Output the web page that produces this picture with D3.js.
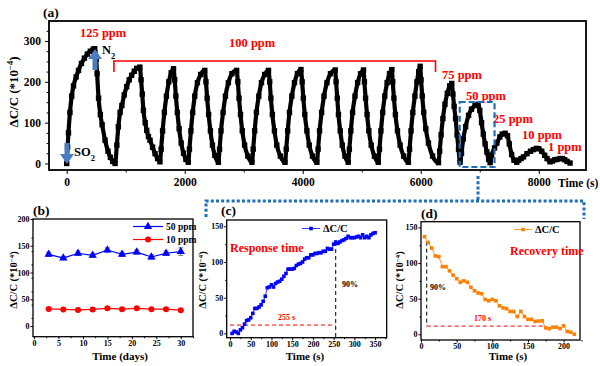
<!DOCTYPE html>
<html><head><meta charset="utf-8">
<script src="https://cdn.jsdelivr.net/npm/d3@7"></script>
<style>
body{margin:0;background:#fff}
text{font-family:"Liberation Serif","Times New Roman",serif;font-weight:bold}
</style>
</head><body>
<svg id="chart" width="600" height="366"></svg>
<script>
// ---------- DATA ----------
// (a) dynamic response: [time (s), ΔC/C (*10^-4)]
const cycleSeries = [
 [0,0],[15,40],[30,75],[55,125],[85,165],[115,190],[160,212],[200,228],[250,245],[300,258],[350,268],[400,275],[450,280],[475,281],
 [500,255],[515,220],[540,160],[570,120],[600,95],[650,57],[700,30],[740,15],[780,5],[820,0],
 [850,45],[875,90],[905,125],[935,142],[975,168],[1016,188],[1060,205],[1100,216],[1145,226],[1185,233],[1240,236],
 [1260,205],[1280,170],[1300,130],[1330,100],[1356,81],[1385,66],[1412,57],[1455,40],[1497,24],[1540,12],[1580,4],
 [1600,35],[1625,80],[1655,125],[1690,165],[1730,200],[1770,222],[1810,232],
 [1830,205],[1850,165],[1875,125],[1905,85],[1940,50],[1980,25],[2020,10],[2060,3],
 [2080,35],[2105,80],[2135,125],[2170,165],[2215,198],[2270,218],[2340,228],
 [2360,200],[2380,160],[2405,120],[2435,80],[2470,45],[2510,20],[2570,3],
 [2590,35],[2615,80],[2650,125],[2690,165],[2740,198],[2800,220],[2880,228],
 [2900,200],[2920,160],[2945,120],[2975,80],[3015,45],[3070,18],[3140,3],
 [3160,35],[3185,80],[3215,125],[3255,165],[3300,198],[3355,218],[3420,228],
 [3440,200],[3460,160],[3485,120],[3520,80],[3560,45],[3620,18],[3700,3],
 [3720,35],[3745,80],[3775,125],[3815,165],[3860,198],[3910,220],[3970,230],
 [3990,200],[4010,160],[4035,120],[4070,80],[4110,45],[4165,18],[4240,3],
 [4260,35],[4285,80],[4320,125],[4360,165],[4410,198],[4470,220],[4550,229],
 [4565,200],[4585,160],[4605,120],[4635,80],[4670,45],[4715,18],[4770,3],
 [4790,35],[4815,80],[4845,125],[4885,165],[4930,198],[4980,220],[5030,229],
 [5045,200],[5065,160],[5090,120],[5120,80],[5160,45],[5215,18],[5280,3],
 [5300,35],[5325,80],[5355,125],[5390,165],[5430,198],[5470,220],[5510,230],
 [5525,200],[5545,160],[5570,120],[5605,80],[5650,45],[5710,18],[5790,3],
 [5810,35],[5835,80],[5865,125],[5900,165],[5935,200],[5965,225],[5990,238],
 [6005,205],[6025,165],[6050,125],[6085,85],[6130,50],[6200,18],[6300,2],
 [6320,30],[6345,70],[6375,110],[6410,145],[6450,172],[6490,190],[6525,196],
 [6545,170],[6565,140],[6590,110],[6615,70],[6640,35],[6666,3],
 [6690,25],[6720,60],[6760,90],[6810,118],[6860,133],[6920,142],[6970,145],
 [7000,130],[7030,100],[7060,72],[7090,48],[7120,28],[7150,10],[7175,2],
 [7200,20],[7250,38],[7290,50],[7340,65],[7380,72],[7430,74],[7470,68],[7500,48],[7540,22],[7580,8],[7627,3],
 [7660,8],[7700,12],[7740,16],[7800,24],[7860,30],[7910,34],[7960,37],[8000,36],[8050,30],[8100,20],[8140,12],[8190,4],
 [8230,6],[8270,9],[8310,10],[8360,12],[8400,12],[8440,9],[8480,5],[8530,1]
];
const aXTicks = [0,2000,4000,6000,8000];
const aYTicks = [0,100,200,300];
const concLabels = ["125 ppm","100 ppm","75 ppm","50 ppm","25 ppm","10 ppm","1 ppm"];

// (b) stability
const days = [3,6,9,12,15,18,21,24,27,30];
const stab50 = [134,127,136,132,142,134,138,129,136,139];
const stab50Err = [4,3,4,4,4,4,4,4,4,7];
const stab10 = [32,31,30,31,33,31.5,33,31.5,31.5,29.5];
const stab10Err = [2,2,2,3,2,2,2,2,2,2];
const bXTicks = [0,5,10,15,20,25,30];
const bYTicks = [0,50,100,150,200];

// (c) response time
const respTime = [5,10,15,20,25,30,35,40,45,50,55,60,65,70,75,80,85,90,95,100,105,110,115,120,125,130,135,140,145,150,155,160,165,170,175,180,185,190,195,200,205,210,215,220,225,230,235,240,245,250,255,260,265,270,275,280,285,290,295,300,305,310,315,320,325,330,335,340,345,350];
const respVal = [0,3,2,0,5,8,13,18,19,22,28,35,35,37,40,45,52,64,65,68,65,70,72,73,76,80,84,90,90,90,91,95,97,98,100,104,106,106,110,110,112,112,113,113,115,115,119,118,118,125,128,126,128,130,131,133,136,134,134,134,135,136,134,138,134,136,134,138,140,141];
const cXTicks = [0,50,100,150,200,250,300,350];
const cdYTicks = [0,50,100,150];

// (d) recovery time
const recTime = [5,10,15,20,25,30,35,40,45,50,55,60,65,70,75,80,85,90,95,100,105,110,115,120,125,130,135,140,145,150,155,160,165,170,175,180,185,190,195,200,205,210,215];
const recVal = [137,129,121,110,109,95,95,89,83,78,73,75,73,66,61,58,57,49,47,49,47,40,37,36,32,32,25,32,25,21,21,18,18.6,19,9,8,10,10,8,12,4,3,0];
const dXTicks = [0,50,100,150,200];

// ---------- DRAWING ----------
const svg = d3.select("#chart");
const RED = "#ff0000", BLUE = "#1f6fb8";

function yLabel(g, x, y, size){
  const t = g.append("text").attr("transform",`translate(${x},${y}) rotate(-90)`)
    .attr("text-anchor","middle").attr("font-size",size);
  t.append("tspan").text("ΔC/C (*10");
  t.append("tspan").attr("baseline-shift","super").attr("font-size",size*0.65).text("−4");
  t.append("tspan").text(")");
}

function frameAxes(g, x, y, xt, yt, opts){
  const fs = opts.fs;
  const xa = d3.axisBottom(x).tickValues(xt).tickSize(opts.tick).tickPadding(opts.pad).tickFormat(d3.format("d"));
  const ya = d3.axisLeft(y).tickValues(yt).tickSize(opts.tick).tickPadding(opts.pad).tickFormat(d3.format("d"));
  const gx = g.append("g").attr("transform",`translate(0,${y.range()[0]})`).call(xa);
  const gy = g.append("g").attr("transform",`translate(${x.range()[0]},0)`).call(ya);
  [gx,gy].forEach(a=>{a.select(".domain").remove();
    a.selectAll("text").attr("font-size",fs).attr("font-family","Liberation Serif").attr("font-weight","bold").attr("fill","#000");
    a.selectAll("line").attr("stroke","#000").attr("stroke-width",1);});
  if(opts.xMinor){
    const m = d3.axisBottom(x).tickValues(opts.xMinor).tickSize(opts.tick*0.6).tickFormat("");
    const gm = g.append("g").attr("transform",`translate(0,${y.range()[0]})`).call(m); gm.select(".domain").remove();
  }
  if(opts.yMinor){
    const m = d3.axisLeft(y).tickValues(opts.yMinor).tickSize(opts.tick*0.6).tickFormat("");
    const gm = g.append("g").attr("transform",`translate(${x.range()[0]},0)`).call(m); gm.select(".domain").remove();
  }
  g.append("rect").attr("x",x.range()[0]).attr("y",y.range()[1])
    .attr("width",x.range()[1]-x.range()[0]).attr("height",y.range()[0]-y.range()[1])
    .attr("fill","none").attr("stroke","#000").attr("stroke-width",opts.sw||1.5);
}
const minorBetween = (lo,hi,step,majorStep)=>d3.range(lo,hi+1e-9,step).filter(v=>Math.abs(v/majorStep-Math.round(v/majorStep))>1e-6);

// ----- Panel (a)
{
  const g = svg.append("g");
  const x = d3.scaleLinear().domain([-300,8800]).range([49,586]);
  const y = d3.scaleLinear().domain([-16,349]).range([170,21]);
  g.append("clipPath").attr("id","clipA").append("rect")
    .attr("x",49).attr("y",21).attr("width",537).attr("height",149);
  const line = d3.line().x(d=>x(d[0])).y(d=>y(d[1])).curve(d3.curveMonotoneX);
  const dg = g.append("g").attr("clip-path","url(#clipA)");
  dg.append("path").datum(cycleSeries).attr("d",line).attr("fill","none").attr("stroke","#000").attr("stroke-width",4.2);
  dg.selectAll("rect.m").data(cycleSeries).join("rect").attr("class","m")
    .attr("x",d=>x(d[0])-2.7).attr("y",d=>y(d[1])-2.7).attr("width",5.4).attr("height",5.4).attr("fill","#000");
  frameAxes(g,x,y,aXTicks,aYTicks,{fs:11.5,tick:4,pad:4,sw:1.8,
    xMinor:[1000,3000,5000,7000],yMinor:minorBetween(25,325,25,100)});
  g.append("text").attr("x",43).attr("y",17).attr("font-size",13.5).text("(a)");
  yLabel(g,18,92,13);
  g.append("text").attr("x",558).attr("y",187).attr("font-size",11.5).text("Time (s)");
  // concentration labels
  const lab = [[80,37,0],[229,47,1],[442,79,2],[466,100,3],[493,123,4],[522,139,5],[548,151,6]];
  lab.forEach(l=>g.append("text").attr("x",l[0]).attr("y",l[1]).attr("font-size",12.5).attr("fill",RED).text(concLabels[l[2]]));
  // bracket for 100 ppm
  g.append("path").attr("d",`M${x(800)},${72} V61 H${x(6250)} V72`).attr("fill","none").attr("stroke",RED).attr("stroke-width",1.6);
  // dashed zoom box
  g.append("rect").attr("x",x(6660)).attr("y",102).attr("width",x(7250)-x(6660)).attr("height",65)
    .attr("fill","none").attr("stroke",BLUE).attr("stroke-width",2.2).attr("stroke-dasharray","6,3");
  // arrows
  const AB = "#4a7cc0";
  g.append("path").attr("d","M64.5,143 h5 v11 h4.5 l-7,10 l-7,-10 h4.5 z").attr("fill",AB);
  g.append("path").attr("d","M92.5,70 h5 v-11 h4.5 l-7,-10 l-7,10 h4.5 z").attr("fill",AB);
  const so = g.append("text").attr("x",74).attr("y",156).attr("font-size",12.5);
  so.append("tspan").text("SO"); so.append("tspan").attr("baseline-shift","sub").attr("font-size",8.5).text("2");
  const n2 = g.append("text").attr("x",102).attr("y",54).attr("font-size",12.5);
  n2.append("tspan").text("N"); n2.append("tspan").attr("baseline-shift","sub").attr("font-size",8.5).text("2");
  // dotted connector
  g.append("path").attr("d","M478,176 V201 M206,217 V201 H584 V219")
    .attr("fill","none").attr("stroke",BLUE).attr("stroke-width",3).attr("stroke-dasharray","3,2.2");
}

// ----- Panel (b)
{
  const g = svg.append("g");
  const x = d3.scaleLinear().domain([-0.2,32.5]).range([33,193]);
  const y = d3.scaleLinear().domain([-20,200]).range([336.7,219]);
  frameAxes(g,x,y,bXTicks,bYTicks,{fs:8,tick:2.5,pad:1,sw:1.3,
    xMinor:minorBetween(2.5,32.5,2.5,5),yMinor:minorBetween(-10,175,25,50).filter(v=>v>0)});
  const line = d3.line().x((d,i)=>x(days[i])).y(d=>y(d));
  const eb = (vals,errs,col)=>{
    g.selectAll(null).data(vals).join("path")
      .attr("d",(d,i)=>`M${x(days[i])-2.5},${y(d+errs[i])} h5 M${x(days[i])},${y(d+errs[i])} V${y(d-errs[i])} M${x(days[i])-2.5},${y(d-errs[i])} h5`)
      .attr("stroke",col).attr("stroke-width",1).attr("fill","none");
  };
  eb(stab50,stab50Err,"#777");
  eb(stab10,stab10Err,"#3a7d2c");
  g.append("path").datum(stab50).attr("d",line).attr("fill","none").attr("stroke","#0000ff").attr("stroke-width",1.2);
  g.append("path").datum(stab10).attr("d",line).attr("fill","none").attr("stroke","#ff0000").attr("stroke-width",1.2);
  const tri = d3.symbol().type(d3.symbolTriangle).size(30);
  g.selectAll(null).data(stab50).join("path").attr("d",tri).attr("transform",(d,i)=>`translate(${x(days[i])},${y(d)})`).attr("fill","#0000ff");
  g.selectAll(null).data(stab10).join("circle").attr("cx",(d,i)=>x(days[i])).attr("cy",d=>y(d)).attr("r",3).attr("fill","#ff0000");
  // legend
  g.append("line").attr("x1",133).attr("x2",163).attr("y1",226.5).attr("y2",226.5).attr("stroke","#0000ff").attr("stroke-width",1.2);
  g.append("path").attr("d",tri).attr("transform","translate(148,226.5)").attr("fill","#0000ff");
  g.append("text").attr("x",166).attr("y",230).attr("font-size",9.5).text("50 ppm");
  g.append("line").attr("x1",133).attr("x2",163).attr("y1",239.5).attr("y2",239.5).attr("stroke","#ff0000").attr("stroke-width",1.2);
  g.append("circle").attr("cx",148).attr("cy",239.5).attr("r",3).attr("fill","#ff0000");
  g.append("text").attr("x",166).attr("y",243).attr("font-size",9.5).text("10 ppm");
  g.append("text").attr("x",33).attr("y",215).attr("font-size",13.5).text("(b)");
  yLabel(g,17,280,10.5);
  g.append("text").attr("x",120).attr("y",360).attr("text-anchor","middle").attr("font-size",11).text("Time (days)");
}

// ----- Panel (c)
{
  const g = svg.append("g");
  const x = d3.scaleLinear().domain([-8,378]).range([226.7,386.7]);
  const y = d3.scaleLinear().domain([-6,158.8]).range([337.7,220]);
  frameAxes(g,x,y,cXTicks,cdYTicks,{fs:8,tick:2.5,pad:1,sw:1.3,
    xMinor:minorBetween(25,375,25,50),yMinor:minorBetween(25,150,25,50)});
  g.append("path").attr("d",`M${x(0)},${y(11.7)} H${x(255)}`).attr("stroke",RED).attr("stroke-width",1).attr("stroke-dasharray","4,3");
  g.append("path").attr("d",`M${x(255)},${y(128)} V${y(-6)}`).attr("stroke","#000").attr("stroke-width",1).attr("stroke-dasharray","4,3");
  const line = d3.line().x((d,i)=>x(respTime[i])).y(d=>y(d));
  g.append("path").datum(respVal).attr("d",line).attr("fill","none").attr("stroke","#3b3bff").attr("stroke-width",1);
  g.selectAll(null).data(respVal).join("rect").attr("x",(d,i)=>x(respTime[i])-1.8).attr("y",d=>y(d)-1.8)
    .attr("width",3.6).attr("height",3.6).attr("fill","#0000ff");
  g.append("line").attr("x1",302).attr("x2",320).attr("y1",228.5).attr("y2",228.5).attr("stroke","#3b3bff");
  g.append("rect").attr("x",309.2).attr("y",226.7).attr("width",3.6).attr("height",3.6).attr("fill","#0000ff");
  g.append("text").attr("x",323).attr("y",232).attr("font-size",10.5).text("ΔC/C");
  g.append("text").attr("x",230).attr("y",251.5).attr("font-size",12).attr("fill",RED).text("Response time");
  g.append("text").attr("x",278).attr("y",320).attr("font-size",8).attr("fill",RED).text("255 s");
  g.append("text").attr("x",342).attr("y",287).attr("font-size",8).text("90%");
  g.append("text").attr("x",221).attr("y",215).attr("font-size",13.5).text("(c)");
  yLabel(g,206,280,10.5);
  g.append("text").attr("x",305).attr("y",360).attr("text-anchor","middle").attr("font-size",11).text("Time (s)");
}

// ----- Panel (d)
{
  const g = svg.append("g");
  const x = d3.scaleLinear().domain([0,223]).range([421,580]);
  const y = d3.scaleLinear().domain([-8,158]).range([340,221.7]);
  frameAxes(g,x,y,dXTicks,cdYTicks,{fs:8,tick:2.5,pad:1,sw:1.3,
    xMinor:minorBetween(25,225,25,50),yMinor:minorBetween(25,150,25,50)});
  g.append("path").attr("d",`M${x(8)},${y(11.5)} H${x(174)}`).attr("stroke",RED).attr("stroke-width",1).attr("stroke-dasharray","4,3");
  g.append("path").attr("d",`M${x(8)},${y(130)} V${y(11.5)}`).attr("stroke","#000").attr("stroke-width",1).attr("stroke-dasharray","4,3");
  const OR = "#ff8000";
  const line = d3.line().x((d,i)=>x(recTime[i])).y(d=>y(d));
  g.append("path").datum(recVal).attr("d",line).attr("fill","none").attr("stroke","#ffa033").attr("stroke-width",1);
  g.selectAll(null).data(recVal).join("rect").attr("x",(d,i)=>x(recTime[i])-1.8).attr("y",d=>y(d)-1.8)
    .attr("width",3.6).attr("height",3.6).attr("fill",OR);
  g.append("line").attr("x1",514).attr("x2",532).attr("y1",229.5).attr("y2",229.5).attr("stroke","#ffa033");
  g.append("rect").attr("x",521.2).attr("y",227.7).attr("width",3.6).attr("height",3.6).attr("fill",OR);
  g.append("text").attr("x",535).attr("y",233).attr("font-size",10.5).text("ΔC/C");
  g.append("text").attr("x",510).attr("y",254.5).attr("font-size",12).attr("fill",RED).text("Recovery time");
  g.append("text").attr("x",474).attr("y",321).attr("font-size",8).attr("fill",RED).text("170 s");
  g.append("text").attr("x",430).attr("y",290).attr("font-size",8).text("90%");
  g.append("text").attr("x",421).attr("y",218).attr("font-size",13.5).text("(d)");
  yLabel(g,403,280,10.5);
  g.append("text").attr("x",508).attr("y",360).attr("text-anchor","middle").attr("font-size",11).text("Time (s)");
}
</script>
</body></html>
